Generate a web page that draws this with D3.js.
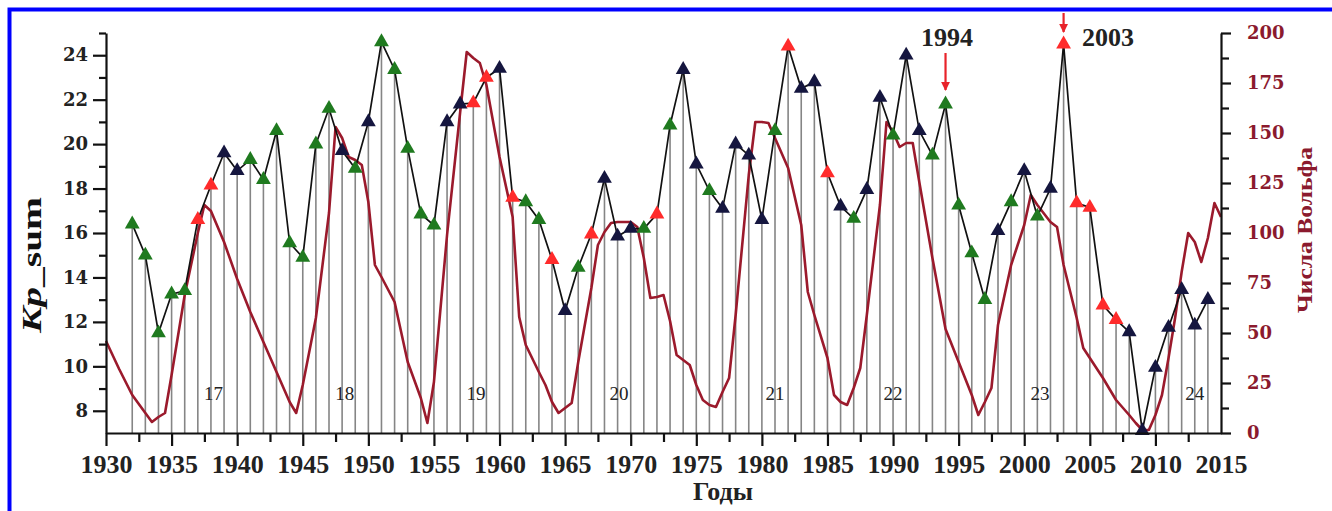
<!DOCTYPE html>
<html>
<head>
<meta charset="utf-8">
<script src="https://cdn.jsdelivr.net/npm/d3@7"></script>
<style>
  html, body { margin: 0; padding: 0; background: #fff; }
  svg { display: block; }
</style>
</head>
<body>
<div id="chart"></div>
<script>
// Kp_sum, one value per year
const kpYears = [1932, 1933, 1934, 1935, 1936, 1937, 1938, 1939, 1940, 1941, 1942, 1943, 1944, 1945, 1946, 1947, 1948, 1949,
  1950, 1951, 1952, 1953, 1954, 1955, 1956, 1957, 1958, 1959, 1960, 1961, 1962, 1963, 1964, 1965, 1966, 1967, 1968, 1969,
  1970, 1971, 1972, 1973, 1974, 1975, 1976, 1977, 1978, 1979, 1980, 1981, 1982, 1983, 1984, 1985, 1986, 1987, 1988, 1989,
  1990, 1991, 1992, 1993, 1994, 1995, 1996, 1997, 1998, 1999, 2000, 2001, 2002, 2003, 2004, 2005, 2006, 2007, 2008, 2009,
  2010, 2011, 2012, 2013, 2014];
const kpValues = [16.4, 15.0, 11.5, 13.25, 13.4, 16.6, 18.15, 19.6, 18.8, 19.3, 18.4, 20.6, 15.55, 14.9, 20.0, 21.6, 19.7, 18.9,
  21.0, 24.6, 23.35, 19.8, 16.85, 16.35, 21.0, 21.8, 21.85, 23.0, 23.4, 17.6, 17.4, 16.6, 14.8, 12.5, 14.45, 15.95, 18.45, 15.85,
  16.2, 16.2, 16.85, 20.85, 23.35, 19.1, 17.9, 17.1, 20.0, 19.5, 16.6, 20.6, 24.4, 22.5, 22.8, 18.7, 17.2, 16.65, 17.95, 22.1,
  20.4, 24.0, 20.6, 19.5, 21.8, 17.25, 15.1, 13.0, 16.1, 17.4, 18.8, 16.75, 18.0, 24.5, 17.35, 17.15, 12.75, 12.1, 11.55, 7.1,
  9.95, 11.75, 13.45, 11.85, 13.0];
// marker class: g = green, n = dark blue, r = red
const kpClass = ['g', 'g', 'g', 'g', 'g', 'r', 'r', 'n', 'n', 'g', 'g', 'g', 'g', 'g', 'g', 'g', 'n', 'g',
  'n', 'g', 'g', 'g', 'g', 'g', 'n', 'n', 'r', 'r', 'n', 'r', 'g', 'g', 'r', 'n', 'g', 'r', 'n', 'n',
  'n', 'g', 'r', 'g', 'n', 'n', 'g', 'n', 'n', 'n', 'n', 'g', 'r', 'n', 'n', 'r', 'n', 'g', 'n', 'n',
  'g', 'n', 'n', 'g', 'g', 'g', 'g', 'g', 'n', 'g', 'n', 'g', 'n', 'r', 'r', 'r', 'r', 'r', 'n', 'n',
  'n', 'n', 'n', 'n', 'n'];

// Wolf numbers (right axis)
const wolfYears = [1930, 1931, 1932, 1933, 1933.5, 1934, 1934.5, 1935, 1936, 1937, 1937.5, 1938, 1939, 1940, 1941, 1942, 1943,
  1944, 1944.5, 1945, 1946, 1947, 1947.5, 1948, 1948.5, 1949, 1949.5, 1950, 1950.5, 1951, 1952, 1953, 1954, 1954.5, 1955,
  1956, 1957, 1957.5, 1958, 1958.5, 1959, 1960, 1961, 1961.5, 1962, 1963, 1963.5, 1964, 1964.5, 1965, 1965.5, 1966, 1967,
  1967.5, 1968, 1968.5, 1969, 1970, 1970.5, 1971, 1971.5, 1972, 1972.5, 1973, 1973.5, 1974, 1974.5, 1975, 1975.5, 1976,
  1976.5, 1977, 1977.5, 1978, 1979, 1979.5, 1980, 1980.5, 1981, 1982, 1983, 1983.5, 1984, 1985, 1985.5, 1986, 1986.5, 1987,
  1987.5, 1988, 1989, 1989.5, 1990, 1990.5, 1991, 1991.5, 1992, 1993, 1994, 1995, 1996, 1996.5, 1997, 1997.5, 1998, 1999,
  2000, 2000.5, 2001, 2002, 2002.5, 2003, 2004, 2004.5, 2005, 2006, 2007, 2008, 2008.5, 2009, 2009.5, 2010, 2010.5, 2011,
  2011.5, 2012, 2012.5, 2013, 2013.5, 2014, 2014.5, 2015];
const wolfValues = [46, 32, 19, 10, 5.5, 8, 10, 29, 69, 100, 114, 111, 95.5, 77, 60.5, 45.5, 30.5,
  15.5, 10, 24, 57.5, 110, 153, 147.5, 138, 136.5, 134, 115.5, 84, 78, 65.5, 35.5, 17.5, 5, 25.5,
  99, 160.5, 190.5, 187.5, 185, 174, 138, 108, 58, 44, 30.5, 24, 15.5, 10, 12.5, 15, 35.5, 72.5,
  94, 100.5, 105, 105.5, 105.5, 103, 87.5, 67.5, 68, 69, 56, 39, 36.5, 34, 24, 16.5, 14,
  13, 20.5, 27.5, 59, 129, 155.5, 155.5, 155, 147.5, 132.5, 104, 70.5, 59, 37.5, 19, 15.5, 14, 22.5,
  32.5, 59, 114, 155.5, 150.5, 143, 145, 145, 125.5, 87.5, 52, 35.5, 19, 9, 15.5, 22.5, 54, 84,
  104, 119, 114, 105.5, 103, 84, 57.5, 42.5, 37.5, 27.5, 16.5, 9, 5, 1.5, 1.5, 9, 19, 37.5,
  57.5, 80.5, 100, 95.5, 85.5, 97.5, 115, 108];

// solar cycle numbers
const cycleNames = ['17', '18', '19', '20', '21', '22', '23', '24'];
const cycleYears = [1938.2, 1948.2, 1958.2, 1969.1, 1981.0, 1990.0, 2001.2, 2013.0];

const xTicks = [1930, 1935, 1940, 1945, 1950, 1955, 1960, 1965, 1970, 1975, 1980, 1985, 1990, 1995, 2000, 2005, 2010, 2015];
const kpTicks = [8, 10, 12, 14, 16, 18, 20, 22, 24];
const wolfTicks = [0, 25, 50, 75, 100, 125, 150, 175, 200];

const W = 1332, H = 511;
const margin = { left: 106, right: 111, top: 33, bottom: 78 };
const serif = '"Liberation Serif", "Times New Roman", serif';
const wideSerif = '"DejaVu Serif", serif';
const colors = { g: '#1f7a1f', n: '#15163f', r: '#ff2b2b' };
const wolfColor = '#9b1a2c';

const svg = d3.select('#chart').append('svg')
  .attr('width', W)
  .attr('height', H);

// blue frame
svg.append('rect')
  .attr('x', 9.5).attr('y', 9.5)
  .attr('width', W + 20).attr('height', H + 20)
  .attr('fill', 'none')
  .attr('stroke', '#0000ff')
  .attr('stroke-width', 4);

const x = d3.scaleLinear().domain([1930, 2015]).range([margin.left, W - margin.right]);
const y = d3.scaleLinear().domain([7, 25]).range([H - margin.bottom, margin.top]);
const yW = d3.scaleLinear().domain([0, 200]).range([H - margin.bottom, margin.top]);

const plot = svg.append('g');

// stems
plot.selectAll('.stem')
  .data(kpYears)
  .enter().append('line')
  .attr('class', 'stem')
  .attr('x1', d => x(d)).attr('x2', d => x(d))
  .attr('y1', y(7))
  .attr('y2', (d, i) => y(kpValues[i]))
  .attr('stroke', '#858585')
  .attr('stroke-width', 1.6);

// cycle numbers
plot.selectAll('.cycle')
  .data(cycleNames)
  .enter().append('text')
  .attr('x', (d, i) => x(cycleYears[i]))
  .attr('y', 400)
  .attr('text-anchor', 'middle')
  .style('font-family', serif)
  .style('font-size', '19px')
  .style('fill', '#222')
  .text(d => d);

// Wolf numbers line
const wolfLine = d3.line()
  .x((d, i) => x(wolfYears[i]))
  .y(d => yW(d));
plot.append('path')
  .datum(wolfValues)
  .attr('d', wolfLine)
  .attr('fill', 'none')
  .attr('stroke', wolfColor)
  .attr('stroke-width', 2.6)
  .attr('stroke-linejoin', 'round');

// Kp line
const kpLine = d3.line()
  .x((d, i) => x(kpYears[i]))
  .y(d => y(d));
plot.append('path')
  .datum(kpValues)
  .attr('d', kpLine)
  .attr('fill', 'none')
  .attr('stroke', '#111')
  .attr('stroke-width', 1.7);

// triangles
const tri = d3.symbol().type(d3.symbolTriangle).size(95);
plot.selectAll('.mark')
  .data(kpValues)
  .enter().append('path')
  .attr('d', tri)
  .attr('transform', (d, i) => `translate(${x(kpYears[i])},${y(d)})`)
  .attr('fill', (d, i) => colors[kpClass[i]]);

// axes
const xAxis = svg.append('g')
  .attr('transform', `translate(0,${H - margin.bottom})`)
  .call(d3.axisBottom(x).tickValues(xTicks).tickFormat(d3.format('d')).tickSize(13).tickSizeOuter(0));
xAxis.selectAll('.tick')
  .filter(d => d === 2015)
  .select('line').remove();
svg.append('g')
  .attr('transform', `translate(0,${H - margin.bottom})`)
  .call(d3.axisBottom(x).tickValues(d3.range(1932.5, 2015, 5)).tickFormat('').tickSize(9).tickSizeOuter(0))
  .select('.domain').remove();
xAxis.selectAll('text')
  .attr('dy', 0).attr('y', 40)
  .style('font-family', serif)
  .style('font-weight', 'bold')
  .style('font-size', '26px')
  .style('fill', '#222');

const yAxis = svg.append('g')
  .attr('transform', `translate(${margin.left},0)`)
  .call(d3.axisLeft(y).tickValues(kpTicks).tickSize(13).tickSizeOuter(0));
svg.append('g')
  .attr('transform', `translate(${margin.left},0)`)
  .call(d3.axisLeft(y).tickValues(d3.range(9, 26, 2)).tickFormat('').tickSize(7).tickSizeOuter(0))
  .select('.domain').remove();
yAxis.selectAll('text')
  .attr('x', -18)
  .style('font-family', wideSerif)
  .style('font-weight', 'bold')
  .style('font-size', '18px')
  .style('fill', '#222');

const rAxis = svg.append('g')
  .attr('transform', `translate(${W - margin.right},0)`)
  .call(d3.axisRight(yW).tickValues(wolfTicks).tickSize(10).tickSizeOuter(0));
svg.append('g')
  .attr('transform', `translate(${W - margin.right},0)`)
  .call(d3.axisRight(yW).tickValues(d3.range(12.5, 200, 25)).tickFormat('').tickSize(8).tickSizeOuter(0))
  .select('.domain').remove();
rAxis.selectAll('text')
  .attr('x', 26)
  .style('font-family', wideSerif)
  .style('font-weight', 'bold')
  .style('font-size', '18px')
  .style('fill', '#8b1a2e');

svg.selectAll('.domain, .tick line')
  .attr('stroke', '#111')
  .attr('stroke-width', 2.2);

// axis titles
const kpTitle = svg.append('text')
  .attr('transform', 'translate(41,265) rotate(-90)')
  .attr('text-anchor', 'middle')
  .attr('textLength', 136)
  .attr('lengthAdjust', 'spacingAndGlyphs')
  .style('font-family', serif)
  .style('font-weight', 'bold')
  .style('font-size', '28px')
  .style('fill', '#111');
kpTitle.append('tspan').style('font-style', 'italic').text('Kp');
kpTitle.append('tspan').text('_sum');

svg.append('text')
  .attr('transform', 'translate(1312,230) rotate(-90)')
  .attr('text-anchor', 'middle')
  .attr('textLength', 166)
  .attr('lengthAdjust', 'spacingAndGlyphs')
  .style('font-family', serif)
  .style('font-weight', 'bold')
  .style('font-size', '21px')
  .style('fill', '#8b1a2e')
  .text('Числа Вольфа');

svg.append('text')
  .attr('x', 723).attr('y', 500)
  .attr('text-anchor', 'middle')
  .style('font-family', serif)
  .style('font-weight', 'bold')
  .style('font-size', '26px')
  .style('fill', '#222')
  .text('Годы');

// annotations 1994 / 2003
const notes = [{ label: '1994', year: 1994, tx: 947, y1: 53, y2: 90 }, { label: '2003', year: 2003, tx: 1108, y1: 13, y2: 32 }];
svg.append('defs').append('marker')
  .attr('id', 'arr')
  .attr('viewBox', '0 0 10 10')
  .attr('refX', 9).attr('refY', 5)
  .attr('markerWidth', 4).attr('markerHeight', 4)
  .attr('orient', 'auto')
  .append('path')
  .attr('d', 'M0,0 L10,5 L0,10 Z')
  .attr('fill', '#e8232a');
notes.forEach(n => {
  svg.append('line')
    .attr('x1', x(n.year)).attr('x2', x(n.year))
    .attr('y1', n.y1).attr('y2', n.y2)
    .attr('stroke', '#e8232a')
    .attr('stroke-width', 2.2)
    .attr('marker-end', 'url(#arr)');
  svg.append('text')
    .attr('x', n.tx).attr('y', 46)
    .attr('text-anchor', 'middle')
    .style('font-family', serif)
    .style('font-weight', 'bold')
    .style('font-size', '26px')
    .style('fill', '#222')
    .text(n.label);
});
</script>
</body>
</html>
